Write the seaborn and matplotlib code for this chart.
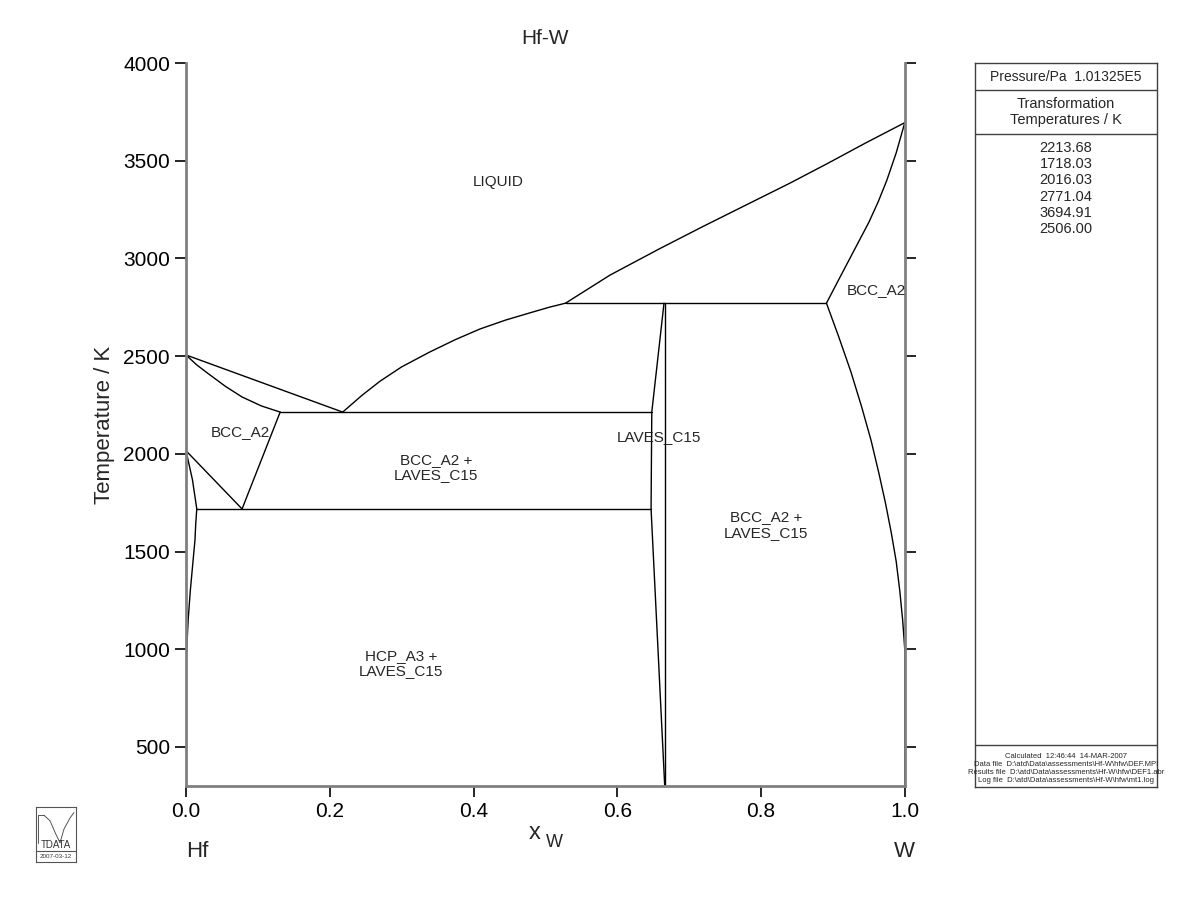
import matplotlib
matplotlib.use("Agg")
import matplotlib.pyplot as plt
import seaborn as sns

sns.set_style("white")
plt.rcParams["font.family"] = ["Liberation Sans", "DejaVu Sans"]

# phase boundaries (x_W, T/K)
hf_liquidus_x = [0.0, 0.218]
hf_liquidus_t = [2506.0, 2213.68]
hf_solidus_x = [0.0, 0.015, 0.03, 0.055, 0.078, 0.105, 0.131]
hf_solidus_t = [2506.0, 2455, 2413, 2345, 2291, 2245, 2213.68]
liq_mid_x = [0.218, 0.245, 0.270, 0.300, 0.339, 0.375, 0.409, 0.445, 0.478, 0.505, 0.528]
liq_mid_t = [2213.68, 2300, 2372, 2445, 2521, 2585, 2639, 2685, 2721, 2750, 2771.04]
w_liquidus_x = [0.528, 0.590, 0.659, 0.720, 0.780, 0.840, 0.892, 0.945, 1.0]
w_liquidus_t = [2771.04, 2915, 3050, 3165, 3275, 3385, 3485, 3590, 3694.91]
w_solidus_x = [0.891, 0.905, 0.920, 0.935, 0.950, 0.963, 0.975, 0.988, 1.0]
w_solidus_t = [2771.04, 2870, 2975, 3080, 3185, 3290, 3400, 3540, 3694.91]
w_solvus_x = [0.891, 0.908, 0.925, 0.940, 0.953, 0.964, 0.973, 0.981, 0.988,
              0.993, 0.997, 0.999, 1.0, 1.0]
w_solvus_t = [2771.04, 2600, 2420, 2240, 2070, 1900, 1750, 1600, 1450,
              1300, 1150, 1050, 996, 300]
bcc_laves_x = [0.131, 0.078]
bcc_laves_t = [2213.68, 1718.03]
bcc_hcp_x = [0.0, 0.078]
bcc_hcp_t = [2016.03, 1718.03]
hcp_bcc_x = [0.0, 0.009, 0.015]
hcp_bcc_t = [2016.03, 1867, 1718.03]
hcp_solvus_x = [0.015, 0.0135, 0.0125, 0.009, 0.006, 0.003, 0.001, 0.0, 0.0]
hcp_solvus_t = [1718.03, 1640, 1560, 1420, 1300, 1150, 1000, 900, 300]
laves_left_x = [0.665, 0.648, 0.647, 0.666]
laves_left_t = [2771.04, 2213.68, 1718.03, 300]
laves_right_x = [0.6667, 0.6667]
laves_right_t = [300, 2771.04]
eutectic_x = [0.131, 0.648]
eutectic_t = [2213.68, 2213.68]
eutectoid_x = [0.015, 0.647]
eutectoid_t = [1718.03, 1718.03]
peritectic_x = [0.528, 0.891]
peritectic_t = [2771.04, 2771.04]

boundaries = [
    (hf_liquidus_x, hf_liquidus_t), (hf_solidus_x, hf_solidus_t),
    (liq_mid_x, liq_mid_t), (w_liquidus_x, w_liquidus_t),
    (w_solidus_x, w_solidus_t), (w_solvus_x, w_solvus_t),
    (bcc_laves_x, bcc_laves_t), (bcc_hcp_x, bcc_hcp_t),
    (hcp_bcc_x, hcp_bcc_t), (hcp_solvus_x, hcp_solvus_t),
    (laves_left_x, laves_left_t), (laves_right_x, laves_right_t),
    (eutectic_x, eutectic_t), (eutectoid_x, eutectoid_t),
    (peritectic_x, peritectic_t),
]

phase_labels = ["LIQUID", "BCC_A2", "BCC_A2 +\nLAVES_C15", "LAVES_C15",
                "BCC_A2 +\nLAVES_C15", "HCP_A3 +\nLAVES_C15", "BCC_A2"]
phase_x = [0.434, 0.076, 0.348, 0.658, 0.807, 0.299, 0.960]
phase_t = [3391, 2112, 1932, 2086, 1636, 929, 2838]

transformation_temps = ["2213.68", "1718.03", "2016.03", "2771.04", "3694.91", "2506.00"]

fig = plt.figure(figsize=(12, 9.23), dpi=100)
ax = fig.add_axes([0.155, 0.1484, 0.599, 0.7833])

for bx, bt in boundaries:
    sns.lineplot(x=bx, y=bt, ax=ax, sort=False, estimator=None,
                 color="black", linewidth=1.0)

for lab, px, pt in zip(phase_labels, phase_x, phase_t):
    ax.text(px, pt, lab, ha="center", va="center", fontsize=11, linespacing=1.1)

ax.set_xlim(0, 1)
ax.set_ylim(300, 4000)
ax.set_xticks([0.0, 0.2, 0.4, 0.6, 0.8, 1.0])
ax.set_yticks([500, 1000, 1500, 2000, 2500, 3000, 3500, 4000])
ax.tick_params(axis="both", direction="out", length=8, width=1.2,
               labelsize=15, colors="black")
ax.tick_params(axis="y", right=True, left=True)
ax.tick_params(axis="x", bottom=True)
for side in ["left", "right", "bottom"]:
    ax.spines[side].set_color("#808080")
    ax.spines[side].set_linewidth(2)
ax.spines["top"].set_visible(False)
ax.set_ylabel("Temperature / K", fontsize=16, labelpad=6)
ax.set_title("Hf-W", fontsize=15, pad=14)

fig.text(0.4458, 0.0975, "x", fontsize=17, ha="center", va="center")
fig.text(0.462, 0.0867, "W", fontsize=13, ha="center", va="center")
fig.text(0.155, 0.077, "Hf", fontsize=16, ha="left", va="center")
fig.text(0.754, 0.077, "W", fontsize=16, ha="center", va="center")

# side panel
px0, px1 = 975 / 1200, 1157 / 1200
py0, py1 = 1 - 787 / 923, 1 - 63 / 923
pax = fig.add_axes([px0, py0, px1 - px0, py1 - py0])
pax.set_xlim(0, 1)
pax.set_ylim(787, 63)
pax.set_xticks([])
pax.set_yticks([])
for s in pax.spines.values():
    s.set_color("#404040")
    s.set_linewidth(1.0)
for yy in [90, 134, 745]:
    pax.axhline(yy, color="#404040", linewidth=1.0)
pax.text(0.5, 76.5, "Pressure/Pa  1.01325E5", ha="center", va="center", fontsize=10)
pax.text(0.5, 112, "Transformation\nTemperatures / K", ha="center", va="center",
         fontsize=10.5, linespacing=1.1)
for i, t in enumerate(transformation_temps):
    pax.text(0.5, 148 + i * 16.2, t, ha="center", va="center", fontsize=10.5)
footer = ["Calculated  12:46:44  14-MAR-2007",
          "Data file  D:\\atd\\Data\\assessments\\Hf-W\\hfw\\DEF.MPI",
          "Results file  D:\\atd\\Data\\assessments\\Hf-W\\hfw\\DEF1.abr",
          "Log file  D:\\atd\\Data\\assessments\\Hf-W\\hfw\\mt1.log"]
for i, t in enumerate(footer):
    pax.text(0.5, 756 + i * 8.3, t, ha="center", va="center", fontsize=5.5)

# logo
lax = fig.add_axes([36 / 1200, 1 - 862 / 923, 40 / 1200, 55 / 923])
lax.set_xlim(0, 1)
lax.set_ylim(0, 1)
lax.set_xticks([])
lax.set_yticks([])
for s in lax.spines.values():
    s.set_color("#555555")
    s.set_linewidth(0.8)
lax.axhline(0.2, color="#555555", linewidth=0.8)
lax.plot([0.05, 0.05, 0.2], [0.35, 0.85, 0.85], color="#555555", linewidth=0.7)
lax.plot([0.2, 0.35, 0.5, 0.6], [0.85, 0.75, 0.5, 0.35], color="#555555", linewidth=0.7)
lax.plot([0.6, 0.7, 0.85, 0.95], [0.35, 0.6, 0.8, 0.9], color="#555555", linewidth=0.7)
lax.text(0.5, 0.3, "TDATA", ha="center", va="center", fontsize=7, color="#333333")
lax.text(0.5, 0.1, "2007-03-12", ha="center", va="center", fontsize=4.5, color="#333333")

fig.savefig("out.png", dpi=100)
